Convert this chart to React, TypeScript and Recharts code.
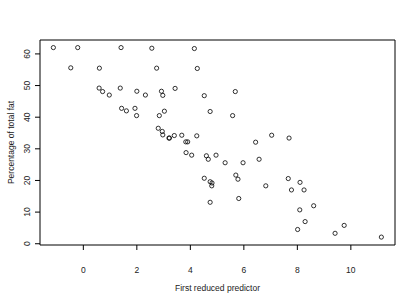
import React from "react";
import {
  ScatterChart,
  Scatter,
  XAxis,
  YAxis,
  ReferenceArea,
} from "recharts";

// first reduced predictor (x) vs percentage of total fat (y)
const predictor = [
  -1.12, -0.21, 1.41, 2.56, 4.15, -0.47, 0.6, 2.74, 4.26, 0.59, 0.72, 0.97,
  1.38, 2.0, 2.32, 2.92, 2.97, 3.43, 4.52, 5.68, 1.43, 1.61, 1.93, 1.99, 2.84,
  3.03, 4.74, 5.58, 2.8, 2.95, 2.97, 3.2, 3.22, 3.4, 3.68, 3.83, 3.9, 4.24,
  6.44, 7.04, 7.69, 3.84, 4.05, 4.6, 4.67, 4.96, 5.3, 5.97, 6.57, 5.7, 5.78,
  6.82, 4.52, 4.74, 4.81, 4.8, 4.74, 5.81, 7.66, 8.1, 7.78, 8.25, 8.61, 8.09,
  8.29, 8.01, 9.75, 9.41, 11.14,
];
const totalFat = [
  62.0, 62.0, 62.0, 61.8, 61.7, 55.6, 55.5, 55.5, 55.4, 49.2, 48.1, 47.0, 49.2,
  48.2, 47.0, 48.2, 46.9, 49.1, 46.8, 48.1, 42.8, 42.0, 42.8, 40.5, 40.5, 41.9,
  41.8, 40.5, 36.5, 35.5, 34.4, 33.4, 33.4, 34.2, 34.3, 32.2, 32.2, 34.1, 32.1,
  34.3, 33.4, 28.8, 28.0, 27.8, 26.7, 28.0, 25.6, 25.6, 26.7, 21.7, 20.4, 18.3,
  20.7, 19.6, 19.2, 18.3, 13.1, 14.3, 20.6, 19.4, 17.0, 17.0, 12.0, 10.7, 7.0,
  4.5, 5.8, 3.3, 2.1,
];
const xTicks = [0, 2, 4, 6, 8, 10];
const yTicks = [0, 10, 20, 30, 40, 50, 60];

const xDomain = [-1.62, 11.65];
const yDomain = [-0.4, 64.4];

const points = predictor.map((x, i) => ({ x, y: totalFat[i] }));

const font = "'Liberation Sans', Arial, sans-serif";

function YTick(props: any) {
  const { x, y, payload } = props;
  const bx = x - 2.5;
  return (
    <text
      x={bx}
      y={y}
      transform={`rotate(-90, ${bx}, ${y})`}
      textAnchor="middle"
      fontSize={8.5}
      fontFamily={font}
      fill="#222"
    >
      {payload.value}
    </text>
  );
}

export default function App() {
  return (
    <div style={{ position: "absolute", left: 0, top: 0, background: "#fff" }}>
      <ScatterChart
        width={415}
        height={295}
        margin={{ top: 40, right: 20, bottom: 0, left: 0 }}
      >
        <XAxis
          type="number"
          dataKey="x"
          domain={xDomain}
          ticks={xTicks}
          allowDataOverflow
          axisLine={false}
          tickLine={{ stroke: "#000" }}
          tickSize={5}
          tickMargin={16.7}
          height={50}
          tick={{ fontSize: 8.5, fontFamily: font, fill: "#222" }}
          label={{
            value: "First reduced predictor",
            position: "insideBottom",
            offset: 4,
            fontSize: 8.5,
            fontFamily: font,
            fill: "#222",
          }}
        />
        <YAxis
          type="number"
          dataKey="y"
          domain={yDomain}
          ticks={yTicks}
          allowDataOverflow
          axisLine={false}
          tickLine={{ stroke: "#000" }}
          tickSize={5}
          width={40}
          tick={<YTick />}
          label={{
            value: "Percentage of total fat",
            angle: -90,
            position: "insideLeft",
            offset: 11,
            fontSize: 8.5,
            fontFamily: font,
            fill: "#222",
            style: { textAnchor: "middle" },
          }}
        />
        <ReferenceArea
          x1={xDomain[0]}
          x2={xDomain[1]}
          y1={yDomain[0]}
          y2={yDomain[1]}
          fill="none"
          fillOpacity={0}
          stroke="#000"
          strokeWidth={1}
        />
        <Scatter
          data={points}
          isAnimationActive={false}
          shape={(p: any) => (
            <circle
              cx={p.cx}
              cy={p.cy}
              r={2.1}
              fill="none"
              stroke="#000"
              strokeWidth={0.8}
            />
          )}
        />
      </ScatterChart>
    </div>
  );
}
